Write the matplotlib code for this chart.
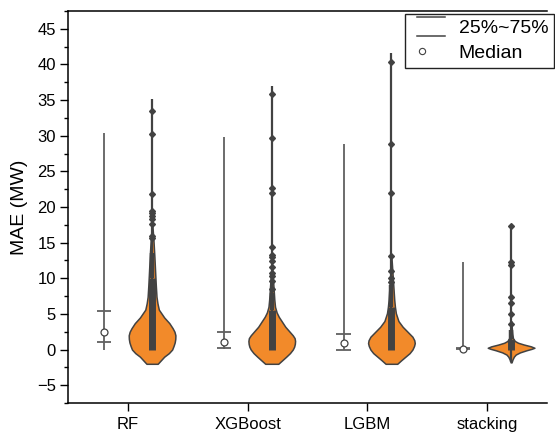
import matplotlib
matplotlib.use("Agg")
import matplotlib.pyplot as plt
import numpy as np
from matplotlib.lines import Line2D
from matplotlib.legend_handler import HandlerBase
from matplotlib.ticker import MultipleLocator

plt.rcParams['font.family'] = ['Liberation Sans', 'DejaVu Sans']

# ---- data ----
models = ['RF', 'XGBoost', 'LGBM', 'stacking']

# box part (min, q1, median, q3, max)
box_min = [0.0, 0.1, 0.0, 0.0]
box_q1 = [1.0, 0.15, 0.0, 0.02]
box_med = [2.45, 1.0, 0.9, 0.1]
box_q3 = [5.45, 2.4, 2.2, 0.28]
box_max = [30.4, 29.8, 28.9, 12.3]

# violin outline: y levels and relative half widths
rf_y = [-2.0, -1.5, -1.0, -0.5, 0.0, 0.5, 1.0, 1.5, 2.0, 2.5, 3.0, 3.7, 4.5, 5.6, 6.5, 7.4, 9.0, 10.3, 13.0, 15.3, 18.0]
rf_w = [0.24, 0.38, 0.52, 0.72, 0.86, 0.92, 0.97, 0.995, 1.0, 0.96, 0.88, 0.74, 0.52, 0.29, 0.23, 0.19, 0.16, 0.14, 0.10, 0.06, 0.0]
xgb_y = [-2.0, -1.5, -1.0, -0.5, 0.0, 0.4, 0.8, 1.2, 1.6, 2.0, 2.6, 3.2, 4.0, 4.6, 5.2, 6.0, 7.0, 8.0, 10.0, 12.0]
xgb_w = [0.28, 0.45, 0.62, 0.78, 0.9, 0.96, 0.99, 1.0, 0.98, 0.9, 0.74, 0.58, 0.42, 0.3, 0.21, 0.14, 0.11, 0.09, 0.05, 0.0]
lgbm_y = [-2.0, -1.5, -1.0, -0.5, 0.0, 0.5, 0.9, 1.3, 1.8, 2.4, 3.2, 4.0, 5.1, 6.0, 7.0, 8.5, 10.0, 13.0]
lgbm_w = [0.25, 0.42, 0.6, 0.78, 0.9, 0.97, 1.0, 0.98, 0.9, 0.72, 0.48, 0.3, 0.19, 0.15, 0.12, 0.09, 0.06, 0.0]
stk_y = [-1.8, -1.4, -1.0, -0.7, -0.4, -0.1, 0.1, 0.25, 0.45, 0.7, 0.95, 1.2, 1.6, 2.2, 3.0, 4.0]
stk_w = [0.02, 0.06, 0.12, 0.2, 0.38, 0.66, 0.88, 1.0, 0.85, 0.55, 0.3, 0.16, 0.08, 0.05, 0.03, 0.0]

# points: solid dense column plus single outliers
line_lo = [0.0, 0.0, 0.0, -1.8]
line_hi = [35.2, 37.0, 41.6, 17.4]
dense_lo = [0.0, 0.0, 0.0, 0.0]
dense_mid = [10.0, 5.5, 6.0, 1.5]
dense_hi = [13.6, 7.9, 9.0, 2.8]
rf_pts = [15.7, 15.9, 17.6, 18.3, 18.7, 19.2, 19.4, 21.8, 30.3, 33.4]
xgb_pts = [8.5, 9.6, 10.3, 10.8, 11.6, 12.4, 13.0, 13.3, 14.4, 21.9, 22.7, 29.7, 35.8]
lgbm_pts = [9.5, 10.0, 11.0, 13.1, 22.0, 28.8, 40.4]
stk_pts = [3.6, 5.0, 6.5, 7.4, 11.9, 12.3, 17.3]

violin_y = [rf_y, xgb_y, lgbm_y, stk_y]
violin_w = [rf_w, xgb_w, lgbm_w, stk_w]
points = [rf_pts, xgb_pts, lgbm_pts, stk_pts]

orange = '#F28A2A'
dark = '#424242'
grey = '#606060'

fig = plt.figure(figsize=(5.55, 4.33), dpi=100)
ax = fig.add_axes([68.3 / 555, 1 - 403 / 433, (547 - 68.3) / 555, (403 - 11) / 433])

pos = np.arange(1, len(models) + 1)
box_x = pos - 0.2
vio_x = pos + 0.2

# box-ish part: whisker line, quartile ticks, median circle
ax.vlines(box_x, box_min, box_max, color=grey, lw=1.3, zorder=2)
ax.hlines(box_q1, box_x - 0.06, box_x + 0.06, color=grey, lw=1.3, zorder=2)
ax.hlines(box_q3, box_x - 0.06, box_x + 0.06, color=grey, lw=1.3, zorder=2)
ax.plot(box_x, box_med, 'o', ms=5, mfc='white', mec=dark, mew=0.9, zorder=3, ls='none')

# violins
stats = []
for i in range(len(models)):
    stats.append({'coords': np.array(violin_y[i]), 'vals': np.array(violin_w[i]),
                  'mean': 0, 'median': 0, 'min': 0, 'max': 0})
parts = ax.violin(stats, positions=vio_x, widths=0.39, showmeans=False,
                  showextrema=False, showmedians=False)
for b in parts['bodies']:
    b.set_facecolor(orange)
    b.set_edgecolor(dark)
    b.set_linewidth(1.1)
    b.set_alpha(1)
    b.set_zorder(2)

# points inside violins
ax.vlines(vio_x, line_lo, line_hi, color=dark, lw=1.6, zorder=3)
ax.vlines(vio_x, dense_lo, dense_mid, color=dark, lw=5.0, zorder=3)
ax.vlines(vio_x, dense_mid, dense_hi, color=dark, lw=3.2, zorder=3)
for i in range(len(models)):
    ax.plot([vio_x[i]] * len(points[i]), points[i], 'D', ms=3.0, color=dark,
            ls='none', zorder=4)

ax.set_xlim(0.5, 4.5)
ax.set_ylim(-7.5, 47.5)
ax.set_xticks(pos)
ax.set_xticklabels(models)
ax.set_yticks(np.arange(-5, 50, 5))
ax.yaxis.set_minor_locator(MultipleLocator(2.5))
ax.set_ylabel('MAE (MW)', fontsize=14, labelpad=6)
ax.tick_params(axis='both', direction='out', labelsize=12, width=1, color='black')
ax.tick_params(axis='y', which='major', length=6, pad=3)
ax.tick_params(axis='y', which='minor', length=3, width=1)
ax.tick_params(axis='x', which='major', length=6, pad=4)
ax.tick_params(axis='x', which='minor', bottom=False)
ax.spines['right'].set_visible(False)
for s in ['left', 'bottom', 'top']:
    ax.spines[s].set_linewidth(1.1)


class QuartileHandler(HandlerBase):
    def create_artists(self, legend, orig_handle, xdescent, ydescent, width, height, fontsize, trans):
        yc = height / 2 - ydescent
        off = 0.48 * fontsize
        x0 = -xdescent + 0.17 * width
        x1 = -xdescent + width
        l1 = Line2D([x0, x1], [yc + off, yc + off], color=dark, lw=1.1, transform=trans)
        l2 = Line2D([x0, x1], [yc - off, yc - off], color=dark, lw=1.1, transform=trans)
        return [l1, l2]


class MedianHandler(HandlerBase):
    def create_artists(self, legend, orig_handle, xdescent, ydescent, width, height, fontsize, trans):
        yc = height / 2 - ydescent
        m = Line2D([-xdescent + 0.34 * width], [yc], marker='o', ms=4.5, mfc='white',
                   mec=dark, mew=0.8, ls='none', transform=trans)
        return [m]


h1 = Line2D([], [])
h2 = Line2D([], [])
leg = fig.legend([h1, h2], ['25%~75%', 'Median'], loc='upper right',
                 bbox_to_anchor=(554 / 555, 1 - 14 / 433), borderaxespad=0,
                 handler_map={h1: QuartileHandler(), h2: MedianHandler()},
                 fontsize=14, handlelength=1.75, handletextpad=0.7, borderpad=0.3,
                 labelspacing=0.35, fancybox=False, framealpha=1, edgecolor='#222222')
leg.get_frame().set_linewidth(1.0)

fig.savefig('out.png', dpi=100)
